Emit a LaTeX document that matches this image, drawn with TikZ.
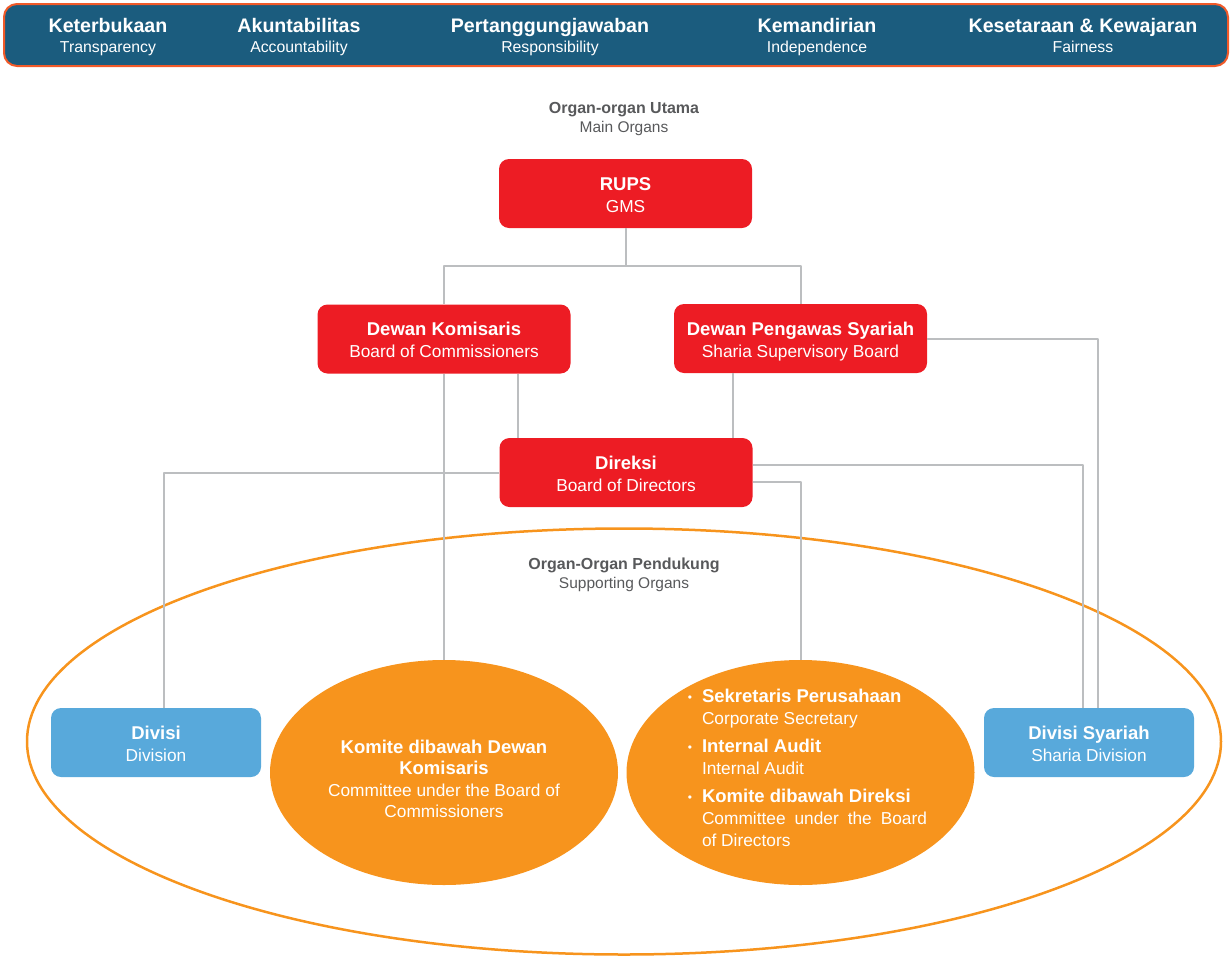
\documentclass[tikz,border=0pt]{standalone}
\usepackage{fontspec}
\setmainfont{Liberation Sans}
\usepackage{color}
\usetikzlibrary{shapes.geometric}

\definecolor{bannerblue}{HTML}{1B5C7E}
\definecolor{bannerline}{HTML}{F15A29}
\definecolor{organred}{HTML}{ED1C24}
\definecolor{organorange}{HTML}{F7941D}
\definecolor{organblue}{HTML}{58A9DB}
\definecolor{linegray}{HTML}{BCBEC0}
\definecolor{headgray}{HTML}{58595B}

\newcommand{\bfont}{\fontsize{18.5}{22}\selectfont\bfseries}
\newcommand{\mdfont}{\fontsize{17.3}{22}\selectfont\mdseries}
\newcommand{\organ}[2]{\bfont\rule{0pt}{20.3pt}#1\\#2\rule[-5pt]{0pt}{5pt}}
\newcommand{\pillartxt}[2]{\fontsize{19.6}{19.6}\selectfont\bfseries\rule{0pt}{19.6pt}#1\\#2\rule[-5pt]{0pt}{5pt}}
\newcommand{\bul}{\leavevmode\llap{\raisebox{1pt}{\fontsize{12}{12}\selectfont\textbullet}\hspace{10pt}}}

\begin{document}
\begin{tikzpicture}[x=1pt,y=-1pt,line cap=round,line join=round,
    redbox/.style={fill=organred,rounded corners=10pt,minimum width=253pt,minimum height=69pt,
      inner sep=0pt,text=white,align=center,font=\fontsize{17.3}{22}\selectfont},
    bluebox/.style={redbox,fill=organblue,minimum width=210pt},
    blob/.style={ellipse,fill=organorange,minimum width=348pt,minimum height=225pt,
      inner sep=0pt,text=white,align=center,font=\fontsize{17.3}{21.5}\selectfont},
    pillar/.style={text=white,align=center,inner sep=0pt,font=\fontsize{15.8}{19.6}\selectfont},
    heading/.style={text=headgray,align=center,inner sep=0pt,font=\fontsize{15.5}{19.6}\selectfont},
    conn/.style={draw=linegray,line width=2pt,line cap=butt}]
    \useasboundingbox (0,0) rectangle (1232,956);
    % banner
    \draw[fill=bannerblue,draw=bannerline,line width=2pt,rounded corners=13pt] (4,4) rectangle (1228,66);
    \foreach \x/\a/\b [count=\i] in {108/Keterbukaan/Transparency,299/Akuntabilitas/Accountability,
      550/Pertanggungjawaban/Responsibility,817/Kemandirian/Independence,1083/Kesetaraan \& Kewajaran/Fairness}
    \node[pillar] (p\i) at (\x,35) {\pillartxt{\a}{\b}};
    % supporting organs
    \draw[draw=organorange,line width=2.5pt] (624,741.5) ellipse [x radius=597,y radius=213];
    \node[heading] (mainhd) at (624,119) {\fontsize{16}{19.6}\selectfont\bfseries Organ-organ Utama\\Main Organs};
    \node[heading] (supphd) at (624,575) {\fontsize{16}{19.6}\selectfont\bfseries Organ-Organ Pendukung\\Supporting Organs};
    % main organs
    \node[redbox] (rups) at (625.5,193.5) {\organ{RUPS}{GMS}};
    \node[redbox] (dk) at (444,339) {\organ{Dewan Komisaris}{Board of Commissioners}};
    \node[redbox] (dps) at (800.5,338.5) {\organ{Dewan Pengawas Syariah}{Sharia Supervisory Board}};
    \node[redbox] (dir) at (626,472.5) {\organ{Direksi}{Board of Directors}};
    \node[bluebox] (div) at (156,742.5) {\organ{Divisi}{Division}};
    \node[bluebox] (dsy) at (1089,742.5) {\organ{Divisi Syariah}{Sharia Division}};
    \node[blob] (kdk) at (444,772.5) {\bfont\rule{0pt}{25.7pt}Komite dibawah Dewan\\\bfont Komisaris\\
      Committee under the Board of\\Commissioners};
    \node[blob] (kdir) at (800.5,772.5) {};
    \node[text=white,text width=225pt,align=justify,inner sep=0pt,font=\mdfont] (kdirtxt)
      at ([xshift=14pt,yshift=5pt]kdir.center) {%
      \bul\bfont Sekretaris Perusahaan\newline\mdfont Corporate Secretary\par\vspace{6pt}
      \bul\bfont Internal Audit\newline\mdfont Internal Audit\par\vspace{6pt}
      \bul\bfont Komite dibawah Direksi\newline\mdfont Committee under the Board of Directors\par};
    % connectors
    \draw[conn] (rups.south) -- ++(0,38) -| (dk.north);
    \draw[conn] (rups.south) -- ++(0,38) -| (dps.north);
    \draw[conn] ([xshift=74pt]dk.south) -- ([xshift=74pt]dk.south |- dir.north);
    \draw[conn] ([xshift=-20pt]dir.north east) -- ([xshift=-20pt]dir.north east |- dps.south);
    \draw[conn] (dk.south) -- (kdk.north);
    \draw[conn] (dps.east) -| ([xshift=9pt]dsy.north);
    \draw[conn] ([yshift=7.5pt]dir.east) -| ([xshift=-6pt]dsy.north);
    \draw[conn] ([yshift=-9.5pt]dir.east) -| (kdir.north);
    \draw[conn] (dir.west) -| ([xshift=8pt]div.north);
\end{tikzpicture}
\end{document}
